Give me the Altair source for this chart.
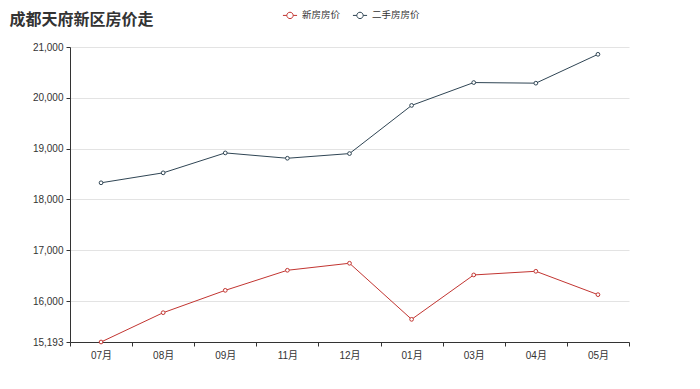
import altair as alt
import pandas as pd

months = ["07月", "08月", "09月", "11月", "12月", "01月", "03月", "04月", "05月"]
new_price = [15193, 15770, 16210, 16605, 16743, 15639, 16513, 16585, 16125]
second_price = [18327, 18523, 18915, 18810, 18902, 19850, 20300, 20288, 20856]
series_names = ["新房房价", "二手房房价"]
series_colors = ["#c23531", "#2f4554"]
y_ticks = [15193, 16000, 17000, 18000, 19000, 20000, 21000]

rows = []
for m, v in zip(months, new_price):
    rows.append({"month": m, "price": v, "series": series_names[0]})
for m, v in zip(months, second_price):
    rows.append({"month": m, "price": v, "series": series_names[1]})
df = pd.DataFrame(rows)

FONT = "Liberation Sans, Noto Sans CJK SC"
TITLE_FONT = "Noto Sans CJK SC"
legend_symbol = "M -1 0 H -0.45 M 0.45 0 H 1 M -0.45 0 A 0.45 0.45 0 1 1 0.45 0 A 0.45 0.45 0 1 1 -0.45 0"

x = alt.X("month:N", sort=months, title=None,
          scale=alt.Scale(paddingInner=0, paddingOuter=0),
          axis=alt.Axis(labelAngle=0, labelFontSize=10, labelColor="#333",
                        labelFont=FONT, tickBand="extent", tickSize=4,
                        tickColor="#333", domainColor="#333", grid=False,
                        labelPadding=4))
y = alt.Y("price:Q", title=None,
          scale=alt.Scale(domain=[15193, 21000], nice=False, zero=False),
          axis=alt.Axis(values=y_ticks, labelExpr="format(datum.value, ',d')",
                        labelFontSize=10, labelColor="#333", labelFont=FONT,
                        tickSize=4, tickColor="#333", domainColor="#333",
                        gridColor="#e3e3e3", labelPadding=3))
color = alt.Color("series:N", sort=series_names,
                  scale=alt.Scale(domain=series_names, range=series_colors),
                  legend=alt.Legend(title=None, orient="none", direction="horizontal",
                                    legendX=212, legendY=-40,
                                    symbolType=legend_symbol, symbolSize=200,
                                    symbolStrokeWidth=1, symbolFillColor="white",
                                    labelFontSize=9.5, labelColor="#333", labelFont=FONT,
                                    columnPadding=9, symbolOffset=0))

base = alt.Chart(df)
lines = base.mark_line(strokeWidth=1).encode(x=x, y=y, color=color)
points = base.mark_point(filled=True, fill="white", size=14, strokeWidth=1, opacity=1).encode(
    x=x, y=y, stroke=alt.Stroke("series:N", sort=series_names,
                                scale=alt.Scale(domain=series_names, range=series_colors),
                                legend=None))

chart = (lines + points).properties(
    width=559, height=295,
    autosize=alt.AutoSizeParams(type="none"),
    padding={"left": 62, "top": 39, "right": 10, "bottom": 30},
    title=alt.TitleParams("成都天府新区房价走", anchor="start", dx=-23, offset=0, dy=21,
                          fontSize=16, fontWeight="bold", font=TITLE_FONT, color="#333"),
).configure_view(stroke=None).configure_axisY(grid=True).configure_axisX(grid=False)

chart.save("out.html", embed_options={"renderer": "svg", "actions": False})
